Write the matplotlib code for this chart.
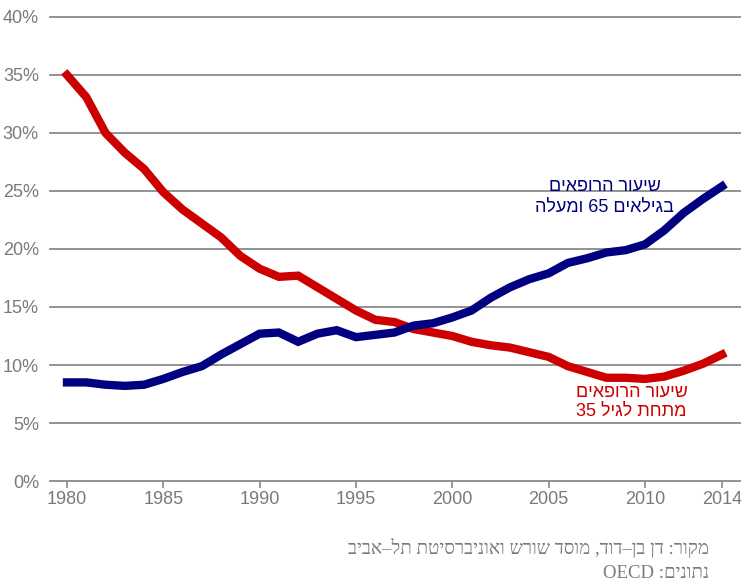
import matplotlib
matplotlib.use("Agg")
import matplotlib.pyplot as plt
from matplotlib.ticker import FixedLocator, FuncFormatter

years = list(range(1980, 2015))
under35 = [35.0, 33.1, 30.0, 28.3, 26.9, 24.9, 23.4, 22.2, 21.0, 19.4,
           18.3, 17.6, 17.7, 16.7, 15.7, 14.7, 13.9, 13.7, 13.1, 12.8,
           12.5, 12.0, 11.7, 11.5, 11.1, 10.7, 9.9, 9.4, 8.9, 8.9,
           8.8, 9.0, 9.5, 10.1, 10.9]
over65 = [8.5, 8.5, 8.3, 8.2, 8.3, 8.8, 9.4, 9.9, 10.9, 11.8,
          12.7, 12.8, 12.0, 12.7, 13.0, 12.4, 12.6, 12.8, 13.4, 13.6,
          14.1, 14.7, 15.8, 16.7, 17.4, 17.9, 18.8, 19.2, 19.7, 19.9,
          20.4, 21.6, 23.1, 24.3, 25.4]
xticks = [1980, 1985, 1990, 1995, 2000, 2005, 2010, 2014]
yticks = [0, 5, 10, 15, 20, 25, 30, 35, 40]

# Hebrew strings stored in visual (left-to-right) order, since matplotlib has no bidi
label_over65 = "םיאפורה רועיש\nהלעמו 65 םיאליגב"
label_under35 = "םיאפורה רועיש\n35 ליגל תחתמ"
source1 = "ביבא–לת תטיסרבינואו שרוש דסומ ,דוד–ןב ןד :רוקמ"
source2 = "OECD :םינותנ"

RED = "#CC0000"
BLUE = "#000080"
GRID = "#8a8a8a"
TXT = "#7a7a7a"

plt.rcParams['font.family'] = ['Liberation Sans Narrow', 'Liberation Sans', 'DejaVu Sans']

fig = plt.figure(figsize=(7.41, 5.85), dpi=100)
ax = fig.add_axes([50/741, 1-481/585, 1-50/741, (481-17)/585])
ax.set_xlim(1980 - 17/19.26, 2014 + 19/19.26)
ax.set_ylim(0, 40)

for v in yticks:
    ax.axhline(v, color=GRID, lw=1.3, zorder=1, clip_on=False)

ax.plot(years, under35, color=RED, lw=6, solid_joinstyle='miter', zorder=3)
ax.plot(years, over65, color=BLUE, lw=6, solid_joinstyle='miter', zorder=3)

for s in ax.spines.values():
    s.set_visible(False)

ax.xaxis.set_major_locator(FixedLocator(xticks))
ax.yaxis.set_major_locator(FixedLocator(yticks))
ax.yaxis.set_major_formatter(FuncFormatter(lambda v, p: f"{int(v)}%"))
ax.tick_params(axis='x', colors=GRID, length=5, width=1.2, labelsize=13, labelcolor=TXT, pad=2)
ax.tick_params(axis='y', length=0, labelsize=13, labelcolor=TXT, pad=8)

ax.text(2007.9, 24.5, label_over65, color=BLUE, fontsize=13, ha='center', va='center',
        multialignment='center', family=['Liberation Sans', 'DejaVu Sans'], linespacing=1.3)
ax.text(2009.3, 6.8, label_under35, color=RED, fontsize=13, ha='center', va='center',
        multialignment='center', family=['Liberation Sans', 'DejaVu Sans'], linespacing=1.1)

fig.text(709/741, 1-548/585, source1, color=TXT, fontsize=13.5, ha='right', va='center',
         family=['Liberation Serif', 'DejaVu Serif'])
fig.text(709/741, 1-573/585, source2, color=TXT, fontsize=13.5, ha='right', va='center',
         family=['Liberation Serif', 'DejaVu Serif'])

fig.savefig("out.png", dpi=100, facecolor='white')
